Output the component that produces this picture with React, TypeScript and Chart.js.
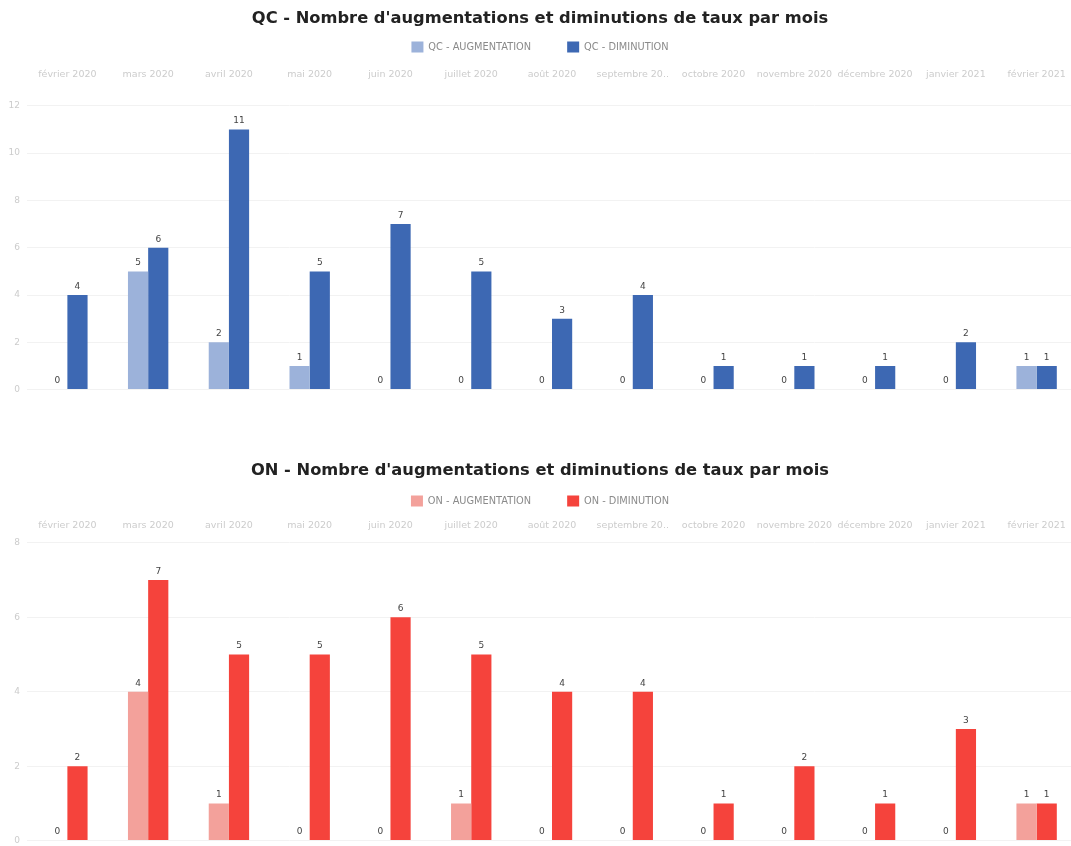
import React, { useEffect, useRef } from "react";
import { Chart, registerables } from "chart.js";

Chart.register(...registerables);

const months = [
  "février 2020",
  "mars 2020",
  "avril 2020",
  "mai 2020",
  "juin 2020",
  "juillet 2020",
  "août 2020",
  "septembre 20..",
  "octobre 2020",
  "novembre 2020",
  "décembre 2020",
  "janvier 2021",
  "février 2021",
];

const qcAugmentation = [0, 5, 2, 1, 0, 0, 0, 0, 0, 0, 0, 0, 1];
const qcDiminution = [4, 6, 11, 5, 7, 5, 3, 4, 1, 1, 1, 2, 1];
const onAugmentation = [0, 4, 1, 0, 0, 1, 0, 0, 0, 0, 0, 0, 1];
const onDiminution = [2, 7, 5, 5, 6, 5, 4, 4, 1, 2, 1, 3, 1];

const qcTitle = "QC - Nombre d'augmentations et diminutions de taux par mois";
const onTitle = "ON - Nombre d'augmentations et diminutions de taux par mois";

const smallFont = "DejaVu Sans";

const valueLabels = {
  id: "valueLabels",
  afterDatasetsDraw(chart: any) {
    const ctx = chart.ctx;
    ctx.save();
    ctx.font = '9px "DejaVu Sans"';
    ctx.fillStyle = "#444";
    ctx.textAlign = "center";
    ctx.textBaseline = "bottom";
    chart.data.datasets.forEach((ds: any, i: number) => {
      const meta = chart.getDatasetMeta(i);
      meta.data.forEach((bar: any, j: number) => {
        ctx.fillText(String(ds.data[j]), bar.x, bar.y - 4);
      });
    });
    ctx.restore();
  },
};

type Layout = {
  titleTop: number;
  titleBottom: number;
  legendMax: number;
  tickLen: number;
};

function makeConfig(
  title: string,
  labelA: string,
  labelB: string,
  dataA: number[],
  dataB: number[],
  colorA: string,
  colorB: string,
  yMax: number,
  lay: Layout
): any {
  return {
    type: "bar",
    data: {
      labels: months,
      datasets: [
        { label: labelA, data: dataA, backgroundColor: colorA, borderWidth: 0 },
        { label: labelB, data: dataB, backgroundColor: colorB, borderWidth: 0 },
      ],
    },
    plugins: [valueLabels],
    options: {
      responsive: false,
      animation: false,
      layout: { padding: { left: 3, right: 0, top: 0, bottom: 0 } },
      datasets: { bar: { categoryPercentage: 0.5, barPercentage: 1.0 } },
      plugins: {
        title: {
          display: true,
          text: title,
          color: "#222",
          font: { family: "DejaVu Sans", size: 16.3, weight: "bold" },
          padding: { top: lay.titleTop, bottom: lay.titleBottom },
        },
        legend: {
          display: true,
          position: "top",
          maxHeight: lay.legendMax,
          labels: {
            boxWidth: 12,
            boxHeight: 11,
            padding: 36,
            color: "#8a8a8a",
            font: { family: smallFont, size: 9.8 },
          },
        },
        tooltip: { enabled: false },
      },
      scales: {
        x: {
          position: "top",
          grid: {
            display: true,
            drawOnChartArea: false,
            drawTicks: true,
            tickLength: lay.tickLen,
            tickColor: "rgba(0,0,0,0)",
          },
          border: { display: false },
          ticks: {
            color: "#cccccc",
            font: { family: smallFont, size: 9.5 },
            maxRotation: 0,
            autoSkip: false,
            padding: 6,
          },
        },
        y: {
          min: 0,
          max: yMax,
          grid: { color: "#f2f2f2", drawTicks: false },
          border: { display: false },
          afterFit: (scale: any) => {
            scale.width = 24;
          },
          ticks: {
            stepSize: 2,
            color: "#cccccc",
            font: { family: smallFont, size: 9 },
            padding: 7,
          },
        },
      },
    },
  };
}

function ChartCanvas({ config, top, height }: { config: any; top: number; height: number }) {
  const ref = useRef<HTMLCanvasElement | null>(null);
  useEffect(() => {
    if (!ref.current) return;
    const chart = new Chart(ref.current, config);
    return () => chart.destroy();
  }, []);
  return (
    <canvas
      ref={ref}
      width={1077}
      height={height}
      style={{ position: "absolute", left: 0, top, width: 1077, height, display: "block" }}
    />
  );
}

export default function App() {
  const qc = makeConfig(
    qcTitle,
    "QC - AUGMENTATION",
    "QC - DIMINUTION",
    qcAugmentation,
    qcDiminution,
    "#9cb2da",
    "#3d68b3",
    12,
    { titleTop: 9.2, titleBottom: -23.3, legendMax: 59, tickLen: 20 }
  );
  const on = makeConfig(
    onTitle,
    "ON - AUGMENTATION",
    "ON - DIMINUTION",
    onAugmentation,
    onDiminution,
    "#f3a19b",
    "#f5433c",
    8,
    { titleTop: 10.2, titleBottom: -21.3, legendMax: 54, tickLen: 6 }
  );
  return (
    <div
      style={{
        position: "fixed",
        left: 0,
        top: 0,
        width: 1071,
        height: 846,
        overflow: "hidden",
        background: "#fff",
      }}
    >
      <ChartCanvas config={qc} top={0} height={402} />
      <ChartCanvas config={on} top={451} height={402} />
    </div>
  );
}
